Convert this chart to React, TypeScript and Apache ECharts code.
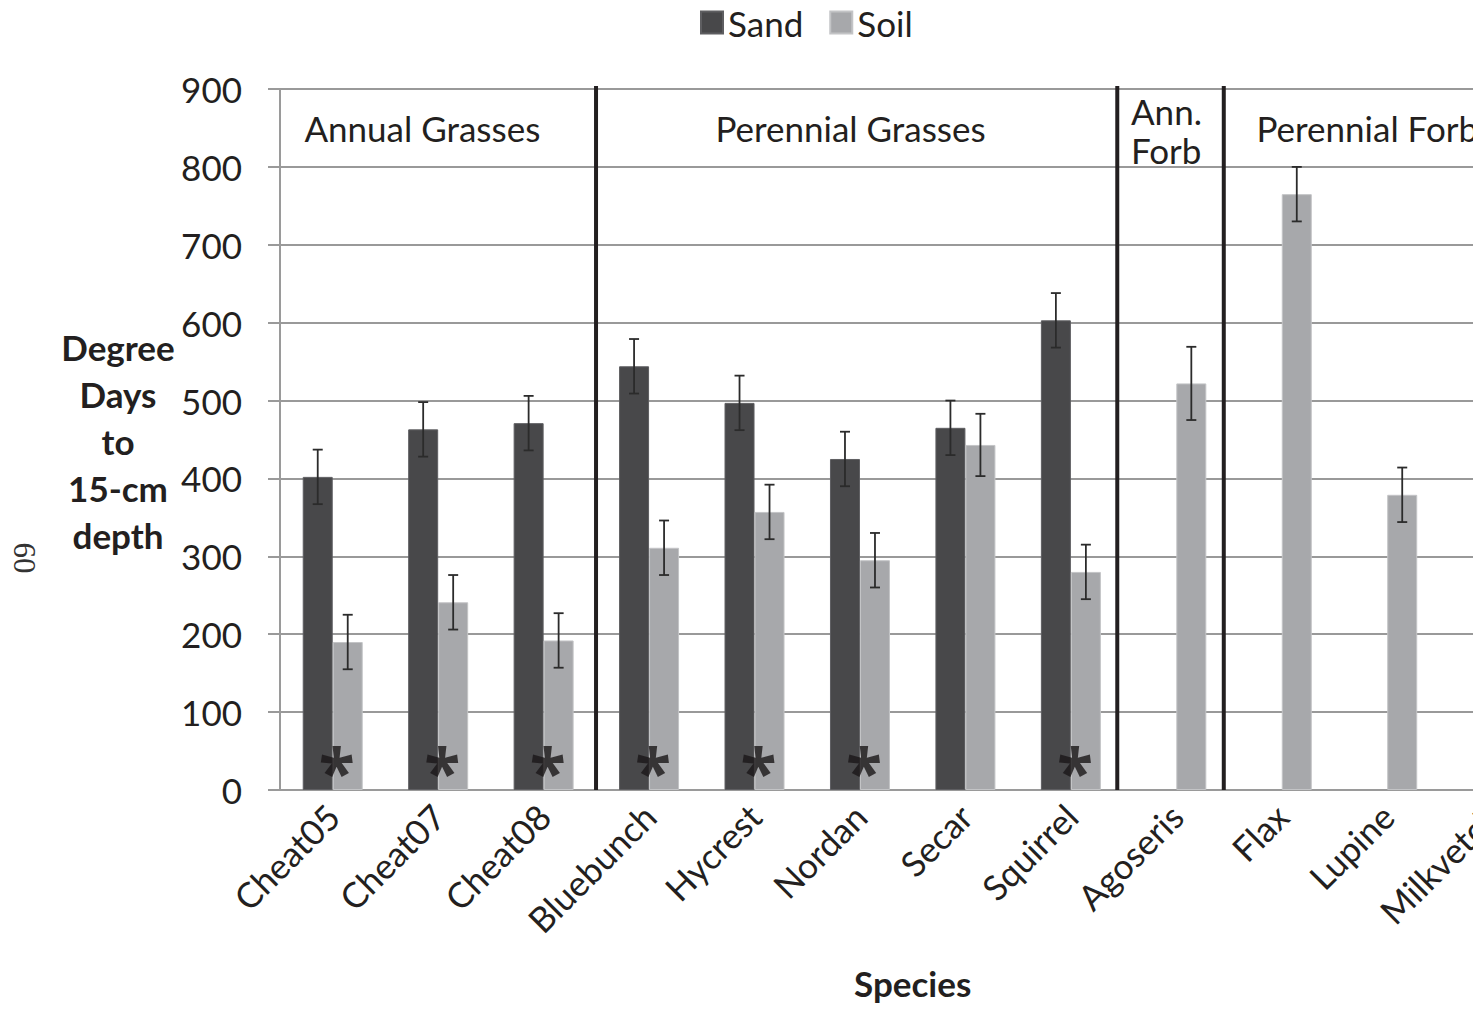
import React, { useEffect, useRef } from "react";
import * as echarts from "echarts";

// Species on the category axis
const CATEGORIES = [
  "Cheat05", "Cheat07", "Cheat08", "Bluebunch", "Hycrest", "Nordan",
  "Secar", "Squirrel", "Agoseris", "Flax", "Lupine", "Milkvetch",
];

// Mean degree days to 15-cm depth and their error half-widths
const SAND = [402, 463, 471, 544, 497, 425, 465, 603, null, null, null, null];
const SAND_ERR = [35, 35, 35, 35, 35, 35, 35, 35, null, null, null, null];
const SOIL = [190, 241, 192, 311, 357, 295, 443, 280, 522, 765, 379, null];
const SOIL_ERR = [35, 35, 35, 35, 35, 35, 40, 35, 47, 35, 35, null];

// Species with a significant sand/soil difference
const SIGNIFICANT = ["Cheat05", "Cheat07", "Cheat08", "Bluebunch", "Hycrest", "Nordan", "Squirrel"];

// Functional-group headings and the separators between the groups
const GROUP_NAMES = ["Annual Grasses", "Perennial Grasses", "Ann.\nForb", "Perennial Forbs"];
const Y_TICKS = { min: 0, max: 900, interval: 100 };

// Layout (in category units along the hidden helper axis)
const GROUP_LABEL_AT = [1.35, 5.41, 8.07, 9.26];
const GROUP_LABEL_ALIGN = ["center", "center", "left", "left"];
const SEPARATOR_AT = [2.997, 7.94, 8.95];

const FONT = "Lato";
const TEXT = "#231f20";
const SAND_COLOR = "#48484a";
const SOIL_COLOR = "#a7a8ab";
const BAR_W = 30;
const GRID = { left: 280, top: 89, width: 1265.4, height: 701 };

function errorData(means: (number | null)[], errs: (number | null)[]) {
  const out: number[][] = [];
  means.forEach((m, i) => {
    const e = errs[i];
    if (m != null && e != null) out.push([i, m - e, m + e]);
  });
  return out;
}

function errorSeries(name: string, data: number[][], dx: number) {
  return {
    type: "custom",
    name,
    data,
    encode: { x: 0, y: [1, 2] },
    z: 5,
    renderItem: (_params: any, api: any) => {
      const i = api.value(0);
      const lo = api.coord([i, api.value(1)]);
      const hi = api.coord([i, api.value(2)]);
      const x = lo[0] + dx;
      const cap = 5;
      const style = { stroke: "#2b2b2b", lineWidth: 1.8 };
      return {
        type: "group",
        children: [
          { type: "line", shape: { x1: x, y1: hi[1], x2: x, y2: lo[1] }, style },
          { type: "line", shape: { x1: x - cap, y1: hi[1], x2: x + cap, y2: hi[1] }, style },
          { type: "line", shape: { x1: x - cap, y1: lo[1], x2: x + cap, y2: lo[1] }, style },
        ],
      };
    },
  };
}

export default function App() {
  const ref = useRef<HTMLDivElement>(null);

  useEffect(() => {
    if (!ref.current) return;
    const chart = echarts.init(ref.current, undefined, { renderer: "svg" });

    chart.setOption({
      animation: false,
      backgroundColor: "#ffffff",
      textStyle: { fontFamily: FONT, color: TEXT },
      legend: {
        data: ["Sand", "Soil"],
        left: 695,
        top: 0,
        icon: "rect",
        itemWidth: 22,
        itemHeight: 22,
        itemGap: 26,
        textStyle: { fontFamily: FONT, fontSize: 35, color: TEXT },
      },
      grid: { ...GRID, outerBoundsMode: "none", containLabel: false },
      xAxis: [
        {
          type: "category",
          data: CATEGORIES,
          axisLine: { lineStyle: { color: "#9a9a9a", width: 2 } },
          axisTick: { length: 13, lineStyle: { color: "#9a9a9a", width: 2 } },
          axisLabel: {
            rotate: 45,
            fontFamily: FONT,
            fontSize: 35,
            color: TEXT,
            margin: 20,
            interval: 0,
          },
          name: "Species",
          nameLocation: "middle",
          nameGap: 175,
          nameTextStyle: { fontFamily: FONT, fontSize: 35, fontWeight: "bold", color: TEXT },
        },
        { type: "value", min: 0, max: CATEGORIES.length, show: false },
      ],
      yAxis: {
        type: "value",
        min: Y_TICKS.min,
        max: Y_TICKS.max,
        interval: Y_TICKS.interval,
        axisLine: { show: true, lineStyle: { color: "#9a9a9a", width: 2 } },
        axisTick: { show: true, length: 12, lineStyle: { color: "#9a9a9a", width: 2 } },
        axisLabel: { fontFamily: FONT, fontSize: 35, color: TEXT, margin: 38 },
        splitLine: { lineStyle: { color: "#999999", width: 2 } },
      },
      series: [
        {
          type: "bar",
          name: "Sand",
          data: SAND,
          barWidth: BAR_W,
          barGap: "0%",
          itemStyle: { color: SAND_COLOR, borderColor: "#5e5e61", borderWidth: 1 },
        },
        {
          type: "bar",
          name: "Soil",
          data: SOIL,
          barWidth: BAR_W,
          barGap: "0%",
          itemStyle: { color: SOIL_COLOR, borderColor: "#c3c4c6", borderWidth: 1 },
        },
        errorSeries("Sand error", errorData(SAND, SAND_ERR), -BAR_W / 2),
        errorSeries("Soil error", errorData(SOIL, SOIL_ERR), BAR_W / 2),
        {
          type: "scatter",
          name: "Significance",
          data: SIGNIFICANT.map((c) => [c, 32]),
          symbolSize: 1,
          itemStyle: { color: "rgba(0,0,0,0)" },
          z: 6,
          label: {
            show: true,
            formatter: "*",
            position: "inside",
            offset: [4, 6],
            fontFamily: "Open Sans",
            fontWeight: "bold",
            fontSize: 66,
            color: "#1a1718",
          },
        },
      ],
    });

    // Group separators, headings and side texts placed via the helper axis
    const px = (u: number) => chart.convertToPixel({ xAxisIndex: 1 }, u) as number;
    const yTop = chart.convertToPixel({ yAxisIndex: 0 }, Y_TICKS.max) as number;
    const yBot = chart.convertToPixel({ yAxisIndex: 0 }, Y_TICKS.min) as number;
    const yMid = (yTop + yBot) / 2;

    const graphics: any[] = [];
    SEPARATOR_AT.forEach((u) => {
      const x = px(u);
      graphics.push({
        type: "line",
        shape: { x1: x, y1: yTop - 3, x2: x, y2: yBot },
        style: { stroke: "#231f20", lineWidth: 4 },
        z: 10,
      });
    });
    GROUP_NAMES.forEach((name, i) => {
      const multi = name.includes("\n");
      graphics.push({
        type: "text",
        x: px(GROUP_LABEL_AT[i]),
        y: multi ? yTop + 41 : yTop + 39,
        style: {
          text: name,
          fontFamily: FONT,
          fontSize: 35,
          lineHeight: 39,
          fill: TEXT,
          align: GROUP_LABEL_ALIGN[i],
          verticalAlign: "middle",
        },
        z: 10,
      });
    });
    graphics.push({
      type: "text",
      x: 118,
      y: yMid + 1,
      style: {
        text: "Degree\nDays\nto\n15-cm\ndepth",
        fontFamily: FONT,
        fontSize: 35,
        fontWeight: "bold",
        lineHeight: 47,
        fill: TEXT,
        align: "center",
        verticalAlign: "middle",
      },
    });
    graphics.push({
      type: "text",
      x: 24,
      y: 558,
      rotation: -Math.PI / 2,
      style: {
        text: "60",
        fontFamily: "Liberation Serif",
        fontSize: 31,
        fill: "#333333",
        align: "center",
        verticalAlign: "middle",
      },
    });
    chart.setOption({ graphic: graphics });

    return () => chart.dispose();
  }, []);

  return (
    <div
      style={{
        position: "fixed",
        left: 0,
        top: 0,
        width: "100vw",
        height: "100vh",
        overflow: "hidden",
        background: "#ffffff",
      }}
    >
      <div ref={ref} style={{ width: 1700, height: 1009 }} />
    </div>
  );
}
